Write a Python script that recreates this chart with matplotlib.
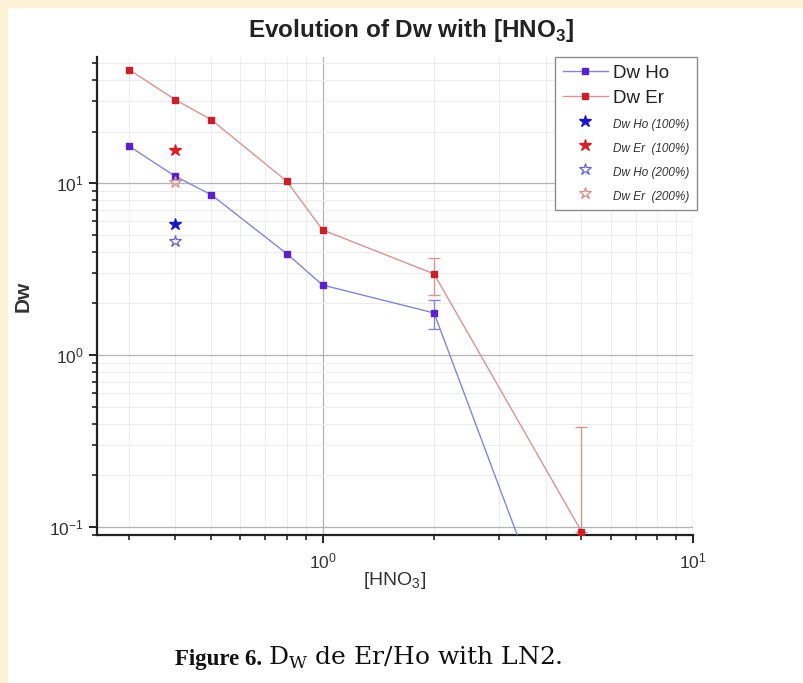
import numpy as np
import matplotlib
matplotlib.use('Agg')
import matplotlib.pyplot as plt
from matplotlib.patches import Rectangle
from matplotlib.ticker import LogLocator, NullFormatter

plt.rcParams['font.family'] = ['Liberation Sans', 'DejaVu Sans']
plt.rcParams['mathtext.fontset'] = 'custom'
plt.rcParams['mathtext.rm'] = 'DejaVu Serif'
plt.rcParams['mathtext.sf'] = 'Liberation Sans'
plt.rcParams['mathtext.bf'] = 'Liberation Sans:bold'

# data
hno3 = np.array([0.3, 0.4, 0.5, 0.8, 1.0, 2.0, 5.0])
dw_ho = np.array([16.5, 11.0, 8.6, 3.9, 2.56, 1.76, 0.009])
dw_er = np.array([46.0, 30.7, 23.5, 10.3, 5.36, 2.97, 0.094])
ho_err = np.array([0, 0, 0, 0, 0, 0.34, 0])
er_err_lo = np.array([0, 0, 0, 0, 0, 0.72, 0])
er_err_hi = np.array([0, 0, 0, 0, 0, 0.72, 0.29])

# single extra points at 0.4 M
x_extra = [0.4]
ho_100 = [5.8]
er_100 = [15.7]
ho_200 = [4.62]
er_200 = [10.2]

ho_line = '#8686d0'
ho_mark = '#5b22c9'
er_line = '#d69494'
er_mark = '#c8202c'

fig = plt.figure(figsize=(8.04, 6.83), dpi=100)
fig.patch.set_facecolor('white')
# beige page border (top and left)
fig.patches.append(Rectangle((0, 1 - 7 / 683), 1, 7 / 683, transform=fig.transFigure,
                             color='#fdf1d6', zorder=0))
fig.patches.append(Rectangle((0, 0), 7 / 804, 1, transform=fig.transFigure,
                             color='#fdf1d6', zorder=0))

ax = fig.add_axes([97 / 804, 1 - 535 / 683, 596 / 804, 478 / 683])
ax.set_xscale('log')
ax.set_yscale('log')
ax.set_xlim(0.246, 10)
ax.set_ylim(0.0898, 54.4)

# grid
ax.grid(True, which='major', color='#b4b4b4', lw=0.9)
ax.grid(True, which='minor', color='#ececec', lw=0.7)
ax.set_axisbelow(True)

ax.plot(hno3, dw_ho, '-s', color=ho_line, mfc=ho_mark, mec=ho_mark, ms=4.5, lw=1.0,
        label='Dw Ho', zorder=3)
ax.plot(hno3, dw_er, '-s', color=er_line, mfc=er_mark, mec=er_mark, ms=4.5, lw=1.0,
        label='Dw Er', zorder=3)

m = ho_err > 0
ax.errorbar(hno3[m], dw_ho[m], yerr=ho_err[m], fmt='none', ecolor=ho_line, elinewidth=1,
            capsize=4, capthick=1, zorder=2)
m = (er_err_lo + er_err_hi) > 0
ax.errorbar(hno3[m], dw_er[m], yerr=[er_err_lo[m], er_err_hi[m]], fmt='none', ecolor=er_line,
            elinewidth=1, capsize=4, capthick=1, zorder=2)

ax.plot(x_extra, ho_100, '*', color='#1a16c4', ms=9, ls='none', label='Dw Ho (100%)', zorder=4)
ax.plot(x_extra, er_100, '*', color='#d8202a', ms=9, ls='none', label='Dw Er  (100%)', zorder=4)
ax.plot(x_extra, ho_200, '*', mfc='none', mec='#6a64c8', ms=9, mew=0.9, ls='none',
        label='Dw Ho (200%)', zorder=4)
ax.plot(x_extra, er_200, '*', mfc='none', mec='#d88c8c', ms=9, mew=0.9, ls='none',
        label='Dw Er  (200%)', zorder=4)

# axes styling
for s in ['top', 'right']:
    ax.spines[s].set_visible(False)
for s in ['left', 'bottom']:
    ax.spines[s].set_linewidth(1.6)
    ax.spines[s].set_color('#222222')
ax.xaxis.set_major_locator(LogLocator(base=10, numticks=10))
ax.xaxis.set_minor_locator(LogLocator(base=10, subs=np.arange(2, 10), numticks=20))
ax.yaxis.set_minor_locator(LogLocator(base=10, subs=np.arange(2, 10), numticks=20))
ax.xaxis.set_minor_formatter(NullFormatter())
ax.yaxis.set_minor_formatter(NullFormatter())
ax.tick_params(which='major', direction='out', length=6, width=1.4, color='#222222',
               labelsize=12.5, labelcolor='#333333')
ax.tick_params(which='minor', direction='out', length=3.5, width=1.2, color='#222222')
ax.tick_params(axis='x', pad=6)

ax.set_xlabel('[HNO$_\\mathsf{3}$]', fontsize=14, color='#333333', labelpad=-1)
ax.set_ylabel('Dw', fontsize=15, fontweight='bold', color='#333333')
ax.yaxis.set_label_coords((33 - 97) / 596, 0.5)

fig.text(0.511, 0.956, 'Evolution of Dw with [HNO$_\\mathbf{3}$]', ha='center', va='center',
         fontsize=17.5, fontweight='bold', color='#222222')

leg = ax.legend(loc='upper right', bbox_to_anchor=(697 / 804, 1 - 57 / 683),
                bbox_transform=fig.transFigure, borderaxespad=0, fontsize=13.5,
                fancybox=False, framealpha=1, edgecolor='#8c8c8c', handlelength=2.4,
                handletextpad=0.3, labelspacing=0.42, borderpad=0.4)
leg.get_frame().set_linewidth(1.0)
for t in leg.get_texts()[:2]:
    t.set_color('#222222')
for t in leg.get_texts()[2:]:
    t.set_fontsize(8.5)
    t.set_fontstyle('italic')
    t.set_color('#333333')

# caption below the chart
fig.text(175 / 804, 1 - 665 / 683, 'Figure 6.', family='Liberation Serif', fontweight='bold',
         fontsize=16.5, va='baseline', ha='left', color='#111111')
fig.text(268 / 804, 1 - 665 / 683, 'D$_\\mathrm{W}$ de Er/Ho with LN2.', family='DejaVu Serif',
         fontsize=18, va='baseline', ha='left', color='#111111')

fig.savefig('out.png', dpi=100, facecolor=fig.get_facecolor())
